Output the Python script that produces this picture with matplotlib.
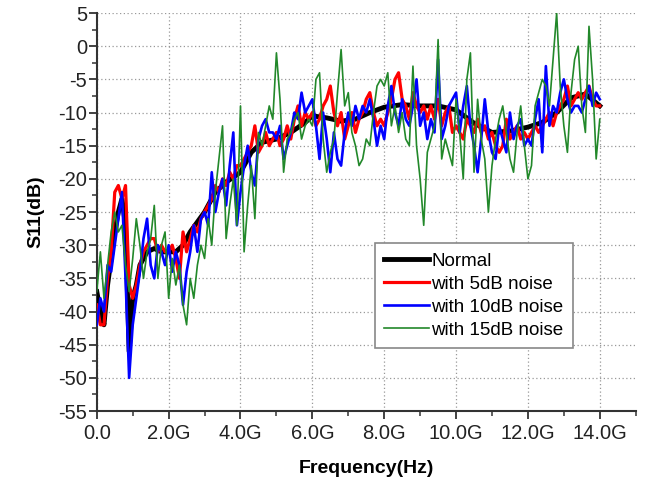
import numpy as np
import matplotlib
matplotlib.use('Agg')
from matplotlib import pyplot as plt
from matplotlib.ticker import MultipleLocator, FuncFormatter

plt.rcParams['font.family'] = ['Liberation Sans', 'DejaVu Sans']
plt.rcParams['axes.unicode_minus'] = False

# normal (reference) curve, smooth
normal_freq = [0.0, 0.1, 0.2, 0.3, 0.4, 0.5, 0.6, 0.7, 0.8, 0.9, 1.0, 1.1, 1.2, 1.4,
               1.6, 1.8, 2.0, 2.2, 2.4, 2.6, 2.8, 3.0, 3.3, 3.6, 4.0, 4.3, 4.6, 5.0,
               5.4, 5.8, 6.0, 6.4, 6.8, 7.2, 7.6, 8.0, 8.5, 9.0, 9.5, 10.0, 10.5,
               11.0, 11.5, 12.0, 12.4, 12.8, 13.2, 13.6, 14.0]
normal_s11 = [-37, -40, -42, -36, -32, -28, -25, -23, -27, -46, -38, -36, -33, -31,
              -30.5, -31, -31, -31, -30, -28, -26.5, -25, -22, -20.5, -19, -16, -14.5, -14,
              -13, -11.5, -10.5, -10.8, -11.3, -11, -10, -9.2, -8.8, -9, -9, -9.6, -11.6,
              -13, -12.8, -12.2, -11.5, -10, -7.8, -7.2, -9]

# noisy measurements, sampled every 0.1 GHz from 0 to 14 GHz
noise_freq = np.round(np.arange(0, 141) * 0.1, 1)

s11_5db = [-39, -42, -42, -35, -31, -22, -21, -23, -21, -36,
           -38, -36, -33, -31, -30, -29, -29, -31, -30, -31,
           -31, -30, -32, -35, -28, -31, -29, -27, -28, -26,
           -25, -24, -23, -21, -22, -20, -21, -19, -20, -18,
           -18, -17, -16, -15, -12, -16, -15, -13, -15, -14,
           -13, -15, -14, -12, -14, -11, -9, -12, -10, -11,
           -10, -12, -11, -9, -8, -6, -10, -12, -10, -14,
           -12, -10, -13, -11, -10, -8, -7, -10, -12, -11,
           -12, -10, -8, -5, -4, -8, -9, -11, -7, -9,
           -10, -9, -11, -9, -11, -8, -12, -10, -9, -13,
           -12, -13, -14, -11, -12, -13, -11, -13, -12, -14,
           -13, -15, -16, -15, -11, -14, -13, -12, -14, -13,
           -14, -13, -12, -13, -12, -11, -10, -12, -10, -9,
           -8, -6, -9, -8, -7, -8, -7, -6, -8, -9,
           -9]

s11_10db = [-42, -38, -40, -33, -34, -30, -26, -22, -35, -50,
            -42, -38, -34, -29, -26, -33, -35, -30, -31, -33,
            -30, -34, -31, -33, -39, -34, -31, -27, -31, -26,
            -25, -27, -19, -25, -22, -20, -24, -18, -13, -27,
            -22, -18, -15, -19, -21, -14, -12, -11, -13, -13,
            -14, -12, -17, -15, -13, -10, -11, -7, -10, -9,
            -8, -12, -17, -10, -14, -19, -13, -17, -18, -13,
            -10, -12, -9, -11, -9, -10, -8, -11, -15, -12,
            -14, -9, -6, -10, -12, -8, -11, -12, -9, -5,
            -12, -10, -14, -11, -13, -2, -14, -12, -9, -8,
            -7, -13, -9, -6, -12, -15, -19, -14, -8, -13,
            -16, -17, -12, -14, -16, -10, -14, -12, -11, -15,
            -14, -15, -11, -8, -16, -3, -12, -9, -10, -7,
            -5, -8, -10, -9, -9, -10, -8, -6, -9, -7,
            -8]

s11_15db = [-37, -31, -38, -33, -28, -25, -28, -27, -33, -37,
            -32, -26, -30, -35, -31, -29, -24, -35, -30, -28,
            -38, -32, -36, -33, -39, -42, -35, -38, -33, -30,
            -32, -26, -30, -22, -17, -12, -29, -24, -20, -27,
            -9, -31, -24, -18, -26, -13, -15, -12, -9, -11,
            -1, -8, -19, -14, -13, -11, -10, -14, -12, -11,
            -12, -5, -4, -14, -19, -16, -14, -7, -0.5, -9,
            -7, -13, -15, -18, -17, -14, -15, -10, -6, -5,
            -6, -4, -12, -9, -13, -10, -14, -15, -3, -15,
            -20, -27, -16, -14, -12, 1, -17, -14, -16, -18,
            -8, -13, -20, -5, -1, -19, -8, -14, -17, -25,
            -18, -14, -11, -9, -13, -17, -19, -13, -9, -15,
            -20, -18, -9, -7, -5, -6, -9, -2, 5, -6,
            -12, -16, -7, -2, 0, -9, -13, 3, -5, -17,
            -11]

fig = plt.figure(figsize=(6.54, 4.83), dpi=100)
ax = fig.add_axes([0.148, 0.149, 0.824, 0.824])

ax.plot(normal_freq, normal_s11, color='black', lw=3.5, label='Normal', zorder=3)
ax.plot(noise_freq, s11_5db, color='#ff0000', lw=2.3, label='with 5dB noise', zorder=4)
ax.plot(noise_freq, s11_10db, color='#0000ff', lw=1.9, label='with 10dB noise', zorder=5)
ax.plot(noise_freq, s11_15db, color='#22882a', lw=1.2, label='with 15dB noise', zorder=6)

ax.set_xlim(0, 15)
ax.set_ylim(-55, 5)
ax.xaxis.set_major_locator(MultipleLocator(2))
ax.xaxis.set_minor_locator(MultipleLocator(1))
ax.yaxis.set_major_locator(MultipleLocator(5))
ax.yaxis.set_minor_locator(MultipleLocator(2.5))
ax.xaxis.set_major_formatter(FuncFormatter(lambda v, p: '0.0' if v == 0 else f'{v:.1f}G'))
ax.yaxis.set_major_formatter(FuncFormatter(lambda v, p: f'{v:.0f}'))

ax.grid(True, which='major', color='#999999', linestyle=(0, (1, 2)), linewidth=0.9)
for side in ['top', 'right']:
    ax.spines[side].set_visible(False)
for side in ['left', 'bottom']:
    ax.spines[side].set_linewidth(1.5)
    ax.spines[side].set_color('#333333')

ax.tick_params(which='major', direction='out', length=6, width=1.3, labelsize=14.5,
               colors='#333333', labelcolor='#222222')
ax.tick_params(axis='y', which='major', pad=1)
ax.tick_params(which='minor', direction='out', length=3.5, width=1.1, colors='#333333')

ax.set_xlabel('Frequency(Hz)', fontsize=14, fontweight='bold', labelpad=12)
ax.set_ylabel('S11(dB)', fontsize=14, fontweight='bold', labelpad=10)

leg = ax.legend(loc='upper left', bbox_to_anchor=(0.516, 0.422), fontsize=13.5,
                frameon=True, fancybox=False, edgecolor='#888888', framealpha=1,
                handlelength=2.4, handletextpad=0.1, borderpad=0.5, labelspacing=0.32,
                borderaxespad=0)
leg.get_frame().set_linewidth(1.2)
leg.set_zorder(10)

fig.savefig('out.png', dpi=100)
